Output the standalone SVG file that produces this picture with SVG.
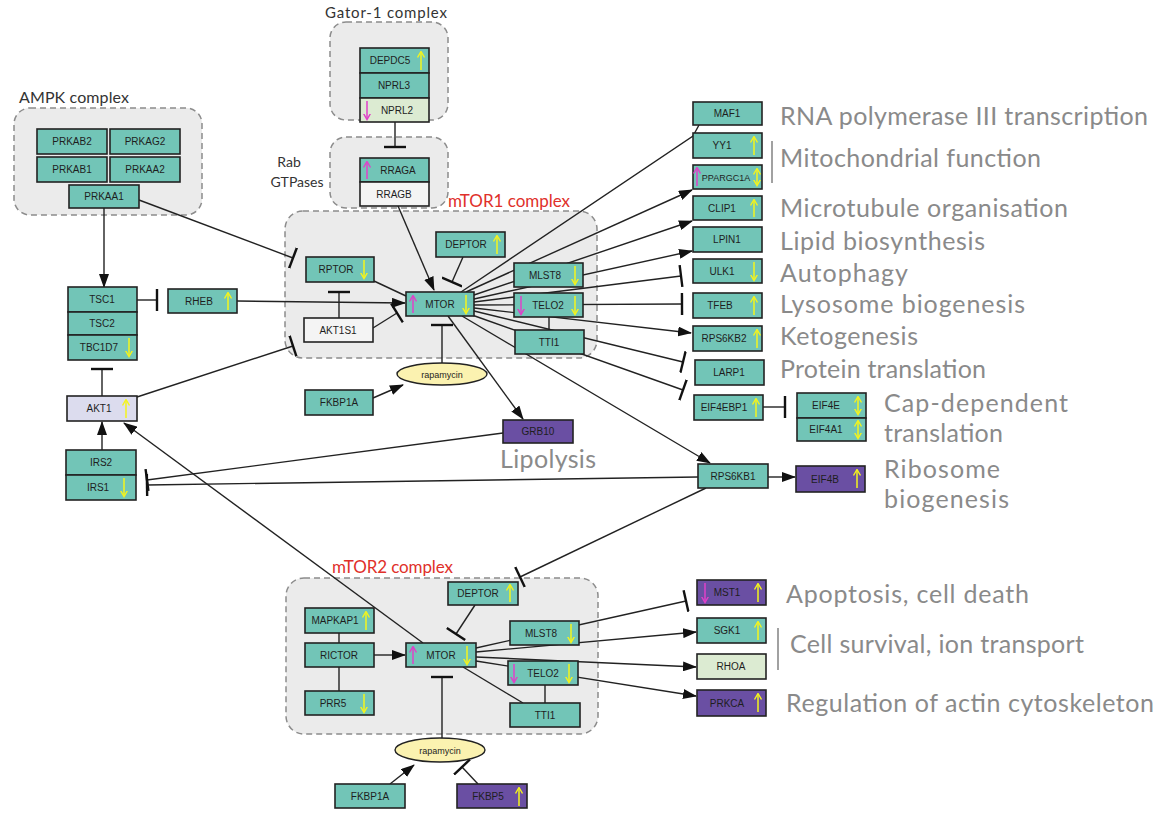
<svg xmlns="http://www.w3.org/2000/svg" width="1162" height="814" viewBox="0 0 1162 814">
<defs>
<style>
.cx{fill:#ebebeb;stroke:#8c8c8c;stroke-width:1.5;stroke-dasharray:6 4}
.n rect{stroke:#222;stroke-width:1.6}
.t{fill:#72c5b7}
.p{fill:#6a4fa3}
.g{fill:#dcebd2}
.w{fill:#f4f4f4}
.l{fill:#dcdcee}
.n text{font-family:"Liberation Sans",Arial,sans-serif;font-size:10px;fill:#1e1e1e;text-anchor:middle}
.c line,.c polyline{stroke:#222;stroke-width:1.4;fill:none}
.a{marker-end:url(#arr)}
.b{marker-end:url(#tee)}
.y{stroke:#f4f41c;stroke-width:1.5;marker-end:url(#yh)}
.yy{stroke:#f4f41c;stroke-width:1.5;marker-end:url(#yh);marker-start:url(#yh)}
.m{stroke:#e040c8;stroke-width:1.5;marker-end:url(#mh)}
.lab{font-family:Lato,"Open Sans",sans-serif;font-size:25px;fill:#8a8a8a}
.cl{font-family:Lato,"Open Sans",sans-serif;font-size:16px;fill:#333}
.red{font-family:Lato,"Open Sans",sans-serif;font-size:17px;fill:#e0302a}
.rp{fill:#fbf2b0;stroke:#222;stroke-width:1.4}
.bar{stroke:#8a8a8a;stroke-width:1.6}
</style>
<marker id="arr" markerUnits="userSpaceOnUse" markerWidth="14" markerHeight="10" refX="13" refY="5" orient="auto" viewBox="0 0 14 10"><path d="M0,0 L14,5 L0,10 Z" fill="#111"/></marker>
<marker id="tee" markerUnits="userSpaceOnUse" markerWidth="4" markerHeight="22" refX="2" refY="11" orient="auto" viewBox="0 0 4 22"><line x1="2" y1="0" x2="2" y2="22" stroke="#111" stroke-width="2.4"/></marker>
<marker id="yh" markerUnits="userSpaceOnUse" markerWidth="7" markerHeight="8" refX="5.5" refY="4" orient="auto-start-reverse" viewBox="0 0 7 8"><path d="M0,0.5 L6,4 L0,7.5" fill="none" stroke="#f4f41c" stroke-width="1.4"/></marker>
<marker id="mh" markerUnits="userSpaceOnUse" markerWidth="7" markerHeight="8" refX="5.5" refY="4" orient="auto" viewBox="0 0 7 8"><path d="M0,0.5 L6,4 L0,7.5" fill="none" stroke="#e040c8" stroke-width="1.4"/></marker>
</defs>
<rect width="1162" height="814" fill="#ffffff"/>

<g id="containers">
<rect class="cx" x="14" y="108" width="188" height="107" rx="16"/>
<text class="cl" x="19" y="103" textLength="110">AMPK complex</text>
<rect class="cx" x="330" y="22" width="118" height="98" rx="16"/>
<text class="cl" x="325" y="18" style="font-size:15px" textLength="122">Gator-1 complex</text>
<rect class="cx" x="330" y="137" width="118" height="71" rx="16"/>
<text class="cl" x="289" y="167" text-anchor="middle" style="font-size:14px">Rab</text>
<text class="cl" x="297" y="187" text-anchor="middle" style="font-size:14px">GTPases</text>
<rect class="cx" x="285" y="211" width="312" height="147" rx="18"/>
<text class="red" x="448" y="207" textLength="122">mTOR1 complex</text>
<rect class="cx" x="286" y="578" width="312" height="156" rx="18"/>
<text class="red" x="332" y="573" textLength="121">mTOR2 complex</text>
</g>

<g id="connectors" class="c">
<line class="a" x1="104" y1="208" x2="104" y2="287"/>
<line class="b" x1="139" y1="200" x2="293" y2="258"/>
<line class="b" x1="395" y1="122" x2="395" y2="147"/>
<line class="a" x1="398" y1="206" x2="434" y2="290"/>
<line class="b" x1="137" y1="300" x2="157" y2="300"/>
<line class="a" x1="237" y1="301" x2="405" y2="303"/>
<line class="b" x1="102" y1="396" x2="102" y2="369"/>
<line class="b" x1="137" y1="397" x2="293" y2="346"/>
<line class="a" x1="102" y1="450" x2="102" y2="422"/>
<line class="b" x1="339" y1="318" x2="339" y2="292"/>
<line class="b" x1="373" y1="328" x2="397" y2="313"/>
<line x1="374" y1="281" x2="406" y2="296"/>
<line class="b" x1="463" y1="257" x2="452" y2="282"/>
<line class="b" x1="442" y1="363" x2="442" y2="325"/>
<line class="a" x1="373" y1="398" x2="403" y2="385"/>
<line class="a" x1="448" y1="316" x2="523" y2="419"/>
<line x1="549" y1="317" x2="549" y2="330"/>
<polyline points="461,292 693,136 699,125"/>
<line class="a" x1="466" y1="292" x2="692" y2="190"/>
<line class="a" x1="474" y1="295" x2="692" y2="221"/>
<line class="a" x1="474" y1="299" x2="692" y2="251"/>
<line class="b" x1="474" y1="302" x2="681" y2="276"/>
<line class="b" x1="474" y1="305" x2="682" y2="304"/>
<line class="a" x1="474" y1="308" x2="691" y2="333"/>
<line class="b" x1="474" y1="311" x2="683" y2="362"/>
<line class="b" x1="472" y1="315" x2="683" y2="390"/>
<line class="a" x1="462" y1="316" x2="710" y2="463"/>
<line class="b" x1="503" y1="433" x2="147" y2="480"/>
<line class="b" x1="698" y1="477" x2="147" y2="485"/>
<line class="a" x1="768" y1="477" x2="795" y2="477"/>
<line class="b" x1="763" y1="407" x2="785" y2="407"/>
<line class="b" x1="706" y1="488" x2="520" y2="577"/>
<line class="a" x1="423" y1="643" x2="124" y2="423"/>
<line class="a" x1="374" y1="655" x2="405" y2="655"/>
<line x1="339" y1="633" x2="339" y2="643"/>
<line x1="339" y1="667" x2="339" y2="691"/>
<line class="b" x1="475" y1="605" x2="456" y2="634"/>
<line class="b" x1="476" y1="648" x2="686" y2="601"/>
<line class="a" x1="476" y1="652" x2="696" y2="632"/>
<line class="a" x1="476" y1="657" x2="696" y2="667"/>
<line class="a" x1="476" y1="661" x2="696" y2="696"/>
<line x1="463" y1="667" x2="523" y2="703"/>
<line x1="545" y1="685" x2="545" y2="703"/>
<line class="b" x1="442" y1="738" x2="442" y2="677"/>
<line class="a" x1="390" y1="784" x2="414" y2="765"/>
<line class="b" x1="478" y1="784" x2="462" y2="767"/>
</g>

<g id="n-PRKAB2" class="n"><rect class="t" x="37" y="129" width="70" height="25"/><text x="72" y="145">PRKAB2</text></g>
<g id="n-PRKAG2" class="n"><rect class="t" x="110" y="129" width="70" height="25"/><text x="145" y="145">PRKAG2</text></g>
<g id="n-PRKAB1" class="n"><rect class="t" x="37" y="157" width="70" height="25"/><text x="72" y="173">PRKAB1</text></g>
<g id="n-PRKAA2" class="n"><rect class="t" x="110" y="157" width="70" height="25"/><text x="145" y="173">PRKAA2</text></g>
<g id="n-PRKAA1" class="n"><rect class="t" x="69" y="185" width="70" height="23"/><text x="104" y="200">PRKAA1</text></g>

<g id="n-DEPDC5" class="n"><rect class="t" x="360" y="48" width="69" height="25"/><text x="390" y="64">DEPDC5</text><line class="y" x1="421" y1="70" x2="421" y2="52"/></g>
<g id="n-NPRL3" class="n"><rect class="t" x="360" y="73" width="69" height="25"/><text x="394" y="89">NPRL3</text></g>
<g id="n-NPRL2" class="n"><rect class="g" x="360" y="98" width="69" height="24"/><text x="397" y="114">NPRL2</text><line class="m" x1="367" y1="101" x2="367" y2="119"/></g>
<g id="n-RRAGA" class="n"><rect class="t" x="360" y="158" width="69" height="24"/><text x="398" y="174">RRAGA</text><line class="m" x1="367" y1="179" x2="367" y2="162"/></g>
<g id="n-RRAGB" class="n"><rect class="w" x="360" y="182" width="69" height="24"/><text x="394" y="198">RRAGB</text></g>

<g id="n-TSC1" class="n"><rect class="t" x="68" y="287" width="69" height="25"/><text x="102" y="303">TSC1</text></g>
<g id="n-TSC2" class="n"><rect class="t" x="68" y="312" width="69" height="23"/><text x="102" y="327">TSC2</text></g>
<g id="n-TBC1D7" class="n"><rect class="t" x="68" y="335" width="69" height="25"/><text x="99" y="351">TBC1D7</text><line class="y" x1="129" y1="338" x2="129" y2="356"/></g>
<g id="n-RHEB" class="n"><rect class="t" x="168" y="289" width="69" height="24"/><text x="199" y="305">RHEB</text><line class="y" x1="228" y1="310" x2="228" y2="293"/></g>
<g id="n-AKT1" class="n"><rect class="l" x="67" y="396" width="70" height="25"/><text x="99" y="412">AKT1</text><line class="y" x1="126" y1="418" x2="126" y2="400"/></g>
<g id="n-IRS2" class="n"><rect class="t" x="66" y="450" width="70" height="25"/><text x="101" y="466">IRS2</text></g>
<g id="n-IRS1" class="n"><rect class="t" x="66" y="475" width="70" height="25"/><text x="98" y="491">IRS1</text><line class="y" x1="124" y1="478" x2="124" y2="496"/></g>

<g id="n-RPTOR" class="n"><rect class="t" x="306" y="257" width="68" height="25"/><text x="336" y="273">RPTOR</text><line class="y" x1="364" y1="260" x2="364" y2="278"/></g>
<g id="n-DEPTOR1" class="n"><rect class="t" x="436" y="232" width="69" height="25"/><text x="466" y="248">DEPTOR</text><line class="y" x1="497" y1="254" x2="497" y2="236"/></g>
<g id="n-MTOR1" class="n"><rect class="t" x="406" y="292" width="68" height="24"/><text x="440" y="308">MTOR</text><line class="m" x1="413" y1="313" x2="413" y2="296"/><line class="y" x1="466" y1="295" x2="466" y2="313"/></g>
<g id="n-MLST8-1" class="n"><rect class="t" x="514" y="263" width="69" height="24"/><text x="545" y="279">MLST8</text><line class="y" x1="575" y1="266" x2="575" y2="284"/></g>
<g id="n-TELO2-1" class="n"><rect class="t" x="514" y="293" width="69" height="24"/><text x="548" y="309">TELO2</text><line class="m" x1="521" y1="296" x2="521" y2="314"/><line class="y" x1="575" y1="296" x2="575" y2="314"/></g>
<g id="n-TTI1-1" class="n"><rect class="t" x="515" y="330" width="69" height="24"/><text x="549" y="346">TTI1</text></g>
<g id="n-AKT1S1" class="n"><rect class="w" x="304" y="318" width="69" height="24"/><text x="338" y="334">AKT1S1</text></g>
<g id="n-rapamycin1" class="n"><ellipse class="rp" cx="442" cy="374" rx="45" ry="11"/><text x="442" y="377.5" style="font-size:9px">rapamycin</text></g>
<g id="n-FKBP1A-1" class="n"><rect class="t" x="305" y="390" width="68" height="25"/><text x="339" y="406">FKBP1A</text></g>
<g id="n-GRB10" class="n"><rect class="p" x="503" y="420" width="70" height="23"/><text x="538" y="435">GRB10</text></g>

<g id="n-MAF1" class="n"><rect class="t" x="693" y="102" width="69" height="23"/><text x="727" y="117">MAF1</text></g>
<g id="n-YY1" class="n"><rect class="t" x="693" y="133" width="69" height="25"/><text x="722" y="149">YY1</text><line class="y" x1="754" y1="155" x2="754" y2="137"/></g>
<g id="n-PPARGC1A" class="n"><rect class="t" x="693" y="165" width="69" height="24"/><text x="726" y="181" style="font-size:9px">PPARGC1A</text><line class="m" x1="697" y1="186" x2="697" y2="168"/><line class="yy" x1="757" y1="169" x2="757" y2="185"/></g>
<g id="n-CLIP1" class="n"><rect class="t" x="693" y="196" width="69" height="24"/><text x="722" y="212">CLIP1</text><line class="y" x1="754" y1="217" x2="754" y2="200"/></g>
<g id="n-LPIN1" class="n"><rect class="t" x="693" y="227" width="69" height="25"/><text x="727" y="243">LPIN1</text></g>
<g id="n-ULK1" class="n"><rect class="t" x="693" y="259" width="69" height="24"/><text x="722" y="275">ULK1</text><line class="y" x1="754" y1="262" x2="754" y2="280"/></g>
<g id="n-TFEB" class="n"><rect class="t" x="693" y="293" width="69" height="25"/><text x="720" y="309">TFEB</text><line class="y" x1="754" y1="315" x2="754" y2="297"/></g>
<g id="n-RPS6KB2" class="n"><rect class="t" x="693" y="326" width="69" height="25"/><text x="724" y="342">RPS6KB2</text><line class="y" x1="757" y1="348" x2="757" y2="330"/></g>
<g id="n-LARP1" class="n"><rect class="t" x="695" y="360" width="69" height="25"/><text x="729" y="376">LARP1</text></g>
<g id="n-EIF4EBP1" class="n"><rect class="t" x="694" y="395" width="69" height="25"/><text x="724" y="411">EIF4EBP1</text><line class="y" x1="756" y1="417" x2="756" y2="399"/></g>
<g id="n-EIF4E" class="n"><rect class="t" x="797" y="393" width="69" height="25"/><text x="826" y="409">EIF4E</text><line class="yy" x1="858" y1="397" x2="858" y2="414"/></g>
<g id="n-EIF4A1" class="n"><rect class="t" x="797" y="418" width="69" height="23"/><text x="826" y="433">EIF4A1</text><line class="yy" x1="858" y1="421" x2="858" y2="438"/></g>
<g id="n-RPS6KB1" class="n"><rect class="t" x="698" y="464" width="70" height="24"/><text x="733" y="480">RPS6KB1</text></g>
<g id="n-EIF4B" class="n"><rect class="p" x="796" y="466" width="69" height="26"/><text x="825" y="483">EIF4B</text><line class="y" x1="857" y1="488" x2="857" y2="470"/></g>

<g id="n-DEPTOR2" class="n"><rect class="t" x="448" y="582" width="70" height="23"/><text x="478" y="597">DEPTOR</text><line class="y" x1="510" y1="602" x2="510" y2="585"/></g>
<g id="n-MAPKAP1" class="n"><rect class="t" x="305" y="608" width="69" height="25"/><text x="335" y="624">MAPKAP1</text><line class="y" x1="366" y1="630" x2="366" y2="612"/></g>
<g id="n-RICTOR" class="n"><rect class="t" x="305" y="643" width="69" height="24"/><text x="339" y="659">RICTOR</text></g>
<g id="n-PRR5" class="n"><rect class="t" x="305" y="691" width="69" height="24"/><text x="333" y="707">PRR5</text><line class="y" x1="364" y1="694" x2="364" y2="712"/></g>
<g id="n-MTOR2" class="n"><rect class="t" x="406" y="643" width="70" height="24"/><text x="441" y="659">MTOR</text><line class="m" x1="413" y1="664" x2="413" y2="647"/><line class="y" x1="467" y1="646" x2="467" y2="664"/></g>
<g id="n-MLST8-2" class="n"><rect class="t" x="510" y="621" width="69" height="24"/><text x="541" y="637">MLST8</text><line class="y" x1="571" y1="624" x2="571" y2="642"/></g>
<g id="n-TELO2-2" class="n"><rect class="t" x="508" y="661" width="70" height="24"/><text x="543" y="677">TELO2</text><line class="m" x1="514" y1="664" x2="514" y2="682"/><line class="y" x1="569" y1="664" x2="569" y2="682"/></g>
<g id="n-TTI1-2" class="n"><rect class="t" x="510" y="703" width="70" height="24"/><text x="545" y="719">TTI1</text></g>
<g id="n-rapamycin2" class="n"><ellipse class="rp" cx="440" cy="750" rx="45" ry="12"/><text x="440" y="753.5" style="font-size:9px">rapamycin</text></g>
<g id="n-FKBP1A-2" class="n"><rect class="t" x="335" y="784" width="70" height="24"/><text x="370" y="800">FKBP1A</text></g>
<g id="n-FKBP5" class="n"><rect class="p" x="457" y="784" width="70" height="24"/><text x="488" y="800">FKBP5</text><line class="y" x1="519" y1="806" x2="519" y2="788"/></g>
<g id="n-MST1" class="n"><rect class="p" x="697" y="580" width="69" height="25"/><text x="727" y="596">MST1</text><line class="m" x1="705" y1="583" x2="705" y2="602"/><line class="y" x1="758" y1="602" x2="758" y2="584"/></g>
<g id="n-SGK1" class="n"><rect class="t" x="697" y="618" width="69" height="25"/><text x="727" y="634">SGK1</text><line class="y" x1="758" y1="640" x2="758" y2="622"/></g>
<g id="n-RHOA" class="n"><rect class="g" x="697" y="654" width="69" height="25"/><text x="731" y="670">RHOA</text></g>
<g id="n-PRKCA" class="n"><rect class="p" x="697" y="690" width="69" height="26"/><text x="727" y="707">PRKCA</text><line class="y" x1="758" y1="712" x2="758" y2="694"/></g>

<g id="labels">
<text class="lab" x="780" y="125" textLength="368">RNA polymerase III transcription</text>
<line class="bar" x1="772" y1="141" x2="772" y2="183"/>
<text class="lab" x="780" y="167" textLength="261">Mitochondrial function</text>
<text class="lab" x="780" y="217" textLength="288">Microtubule organisation</text>
<text class="lab" x="780" y="250" textLength="205">Lipid biosynthesis</text>
<text class="lab" x="780" y="282" textLength="128">Autophagy</text>
<text class="lab" x="780" y="313" textLength="245">Lysosome biogenesis</text>
<text class="lab" x="780" y="345" textLength="138">Ketogenesis</text>
<text class="lab" x="780" y="378" textLength="206">Protein translation</text>
<text class="lab" x="884" y="412" textLength="184">Cap-dependent</text>
<text class="lab" x="884" y="442" textLength="119">translation</text>
<text class="lab" x="884" y="478" textLength="116">Ribosome</text>
<text class="lab" x="884" y="508" textLength="125">biogenesis</text>
<text class="lab" x="500" y="468" textLength="96">Lipolysis</text>
<text class="lab" x="786" y="603" textLength="243">Apoptosis, cell death</text>
<line class="bar" x1="778" y1="628" x2="778" y2="670"/>
<text class="lab" x="790" y="653" textLength="294">Cell survival, ion transport</text>
<text class="lab" x="786" y="712" textLength="368">Regulation of actin cytoskeleton</text>
</g>
</svg>
